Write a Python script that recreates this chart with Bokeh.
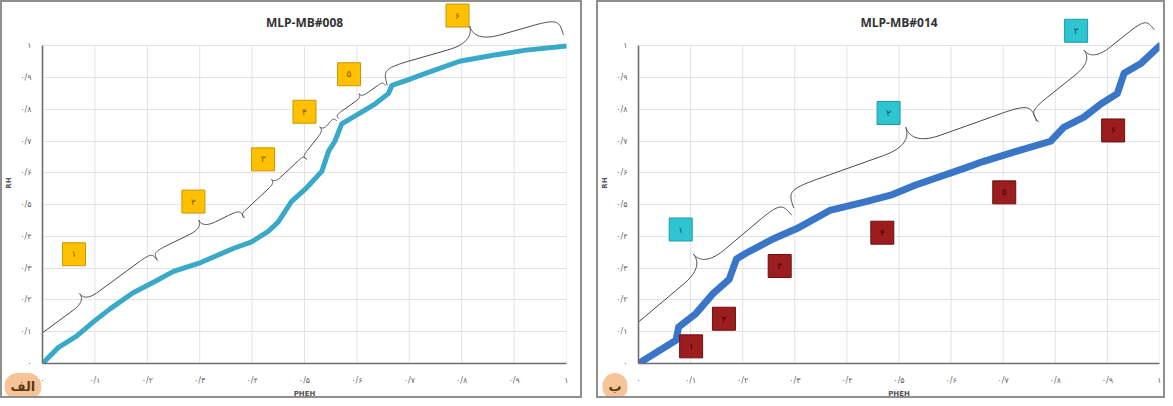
import numpy as np
from bokeh.plotting import figure
from bokeh.layouts import row
from bokeh.models import FixedTicker, Label, ColumnDataSource, Title
from bokeh.core.properties import value
from bokeh.embed import file_html
from bokeh.resources import INLINE

# ---------------- data ----------------
ticks = [0.0, 0.1, 0.2, 0.3, 0.4, 0.5, 0.6, 0.7, 0.8, 0.9, 1.0]
tick_labels = ["۰", "۰/۱", "۰/۲", "۰/۳", "۰/۴", "۰/۵", "۰/۶", "۰/۷", "۰/۸", "۰/۹", "۱"]

left_title = "MLP-MB#008"
right_title = "MLP-MB#014"
x_label = "PHEH"
y_label = "RH"

left_x = [0, 0.03, 0.065, 0.1, 0.129, 0.173, 0.219, 0.25, 0.302, 0.365, 0.398, 0.43, 0.45,
          0.475, 0.505, 0.533, 0.546, 0.558, 0.571, 0.604, 0.635, 0.66, 0.667, 0.7, 0.731,
          0.796, 0.86, 0.923, 1.0]
left_y = [0, 0.05, 0.086, 0.135, 0.172, 0.223, 0.262, 0.29, 0.318, 0.363, 0.382, 0.415, 0.446,
          0.51, 0.555, 0.605, 0.669, 0.70, 0.755, 0.787, 0.818, 0.85, 0.876, 0.895, 0.914,
          0.952, 0.971, 0.987, 1.0]

right_x = [0, 0.072, 0.077, 0.11, 0.143, 0.174, 0.188, 0.207, 0.259, 0.304, 0.367, 0.433,
           0.484, 0.532, 0.629, 0.661, 0.725, 0.791, 0.816, 0.855, 0.888, 0.919, 0.932,
           0.965, 1.0]
right_y = [0, 0.073, 0.115, 0.157, 0.22, 0.265, 0.329, 0.348, 0.393, 0.425, 0.482, 0.508,
           0.53, 0.562, 0.617, 0.636, 0.668, 0.70, 0.744, 0.776, 0.818, 0.85, 0.914,
           0.946, 1.0]

left_box_labels = ["۱", "۲", "۳", "۴", "۵", "۶"]
left_box_x = [0.06, 0.288, 0.421, 0.50, 0.585, 0.792]
left_box_y = [0.344, 0.51, 0.643, 0.793, 0.911, 1.096]

right_cyan_labels = ["۱", "۲", "۳"]
right_cyan_x = [0.081, 0.480, 0.840]
right_cyan_y = [0.422, 0.789, 1.048]

right_red_labels = ["۱", "۲", "۳", "۴", "۵", "۶"]
right_red_x = [0.101, 0.164, 0.271, 0.468, 0.702, 0.911]
right_red_y = [0.054, 0.141, 0.307, 0.412, 0.539, 0.734]

# braces: (start, tip, end)
left_braces = [
    ((-0.031, 0.022), (0.071, 0.220), (0.219, 0.325)),
    ((0.219, 0.325), (0.298, 0.452), (0.385, 0.459)),
    ((0.385, 0.459), (0.437, 0.580), (0.504, 0.643)),
    ((0.504, 0.643), (0.529, 0.745), (0.562, 0.764)),
    ((0.565, 0.771), (0.604, 0.850), (0.654, 0.876)),
    ((0.658, 0.876), (0.815, 1.064), (0.994, 1.035)),
]
right_braces = [
    ((-0.019, 0.035), (0.105, 0.345), (0.294, 0.467)),
    ((0.298, 0.490), (0.513, 0.744), (0.764, 0.763)),
    ((0.768, 0.760), (0.855, 0.987), (0.990, 1.051)),
]

FRAME_H = 357
Y_END = 1.137


def brace_path(A, T, B, sx, sy, n=30):
    a = np.array([A[0] * sx, A[1] * sy])
    t = np.array([T[0] * sx, T[1] * sy])
    b = np.array([B[0] * sx, B[1] * sy])
    u = (b - a) / np.linalg.norm(b - a)
    nr = np.array([-u[1], u[0]])
    if np.dot(t - a, nr) < 0:
        nr = -nr
    d = np.dot(t - a, nr)
    h = d / 2.0
    tp = t - h * nr

    def cubic(p0, p1, p2, p3):
        s = np.linspace(0, 1, n)[:, None]
        return (1 - s) ** 3 * p0 + 3 * (1 - s) ** 2 * s * p1 + 3 * (1 - s) * s ** 2 * p2 + s ** 3 * p3

    def half(e):
        ep = e + h * nr
        L = np.linalg.norm(tp - ep)
        dr = (tp - ep) / L
        k = min(1.6 * h, 0.45 * L)
        q1 = ep + k * dr
        q2 = tp - k * dr
        c1 = cubic(e, e + 0.8 * h * nr, ep, q1)
        c2 = cubic(q2, tp, t - 0.2 * h * nr, t)
        return np.vstack([c1, c2])

    pts = np.vstack([half(a), half(b)[::-1]])
    return pts[:, 0] / sx, pts[:, 1] / sy


def make_panel(title, xs, ys, line_color, line_width, frame_w, mb_left, mb_right,
               braces, boxes, badge, badge_offset):
    p = figure(frame_width=frame_w, frame_height=FRAME_H, x_range=(0, 1), y_range=(0, Y_END),
               output_backend="svg", toolbar_location=None,
               min_border_left=mb_left, min_border_right=mb_right,
               min_border_top=0, min_border_bottom=29)
    p.styles = {"border": "2px solid #8f8f8f"}
    p.outline_line_color = None
    p.background_fill_color = "white"
    p.border_fill_color = "white"

    p.xgrid.visible = False
    p.ygrid.ticker = FixedTicker(ticks=ticks)
    p.ygrid.grid_line_color = "#e3e3e3"
    p.segment(x0=ticks, y0=[0] * len(ticks), x1=ticks, y1=[1] * len(ticks),
              line_color="#e3e3e3", line_width=1)

    for ax in (p.xaxis[0], p.yaxis[0]):
        ax.ticker = FixedTicker(ticks=ticks)
        ax.major_label_overrides = {t: l for t, l in zip(ticks, tick_labels)}
        ax.bounds = (0, 1)
        ax.axis_line_color = "#6e6e6e"
        ax.axis_line_width = 1.6
        ax.major_tick_line_color = None
        ax.minor_tick_line_color = None
        ax.major_label_text_font_size = "8px"
        ax.major_label_text_color = "#666666"
        ax.major_label_text_font = "DejaVu Sans"
        ax.axis_label_text_font_size = "7px"
        ax.axis_label_text_font_style = "bold"
        ax.axis_label_text_color = "#555555"
        ax.axis_label_text_font = "DejaVu Sans"
    p.xaxis[0].axis_label = x_label
    p.yaxis[0].axis_label = y_label
    p.xaxis[0].major_label_standoff = 6
    p.xaxis[0].axis_label_standoff = 2
    p.yaxis[0].major_label_standoff = 5
    p.yaxis[0].axis_label_standoff = 4

    sx = frame_w / 1.0
    sy = FRAME_H / Y_END
    for A, T, B in braces:
        bx, by = brace_path(A, T, B, sx, sy)
        p.line(bx, by, line_color="#4a4a4a", line_width=1.0)

    p.line(xs, ys, line_color=line_color, line_width=line_width, line_join="round", line_cap="round")

    for (lbls, bxs, bys, fill, edge, tcol) in boxes:
        src = ColumnDataSource(dict(x=bxs, y=bys, t=lbls))
        p.scatter("x", "y", source=src, marker="square", size=23, fill_color=fill,
                  line_color=edge, line_width=1)
        p.text("x", "y", text="t", source=src, text_align="center", text_baseline="middle",
               text_font_size="9px", text_color=tcol, text_font=value("DejaVu Sans"))

    p.add_layout(Label(x=0.5, y=1.073, text=title, text_align="center", text_baseline="middle",
                       text_font_size="12px", text_font_style="bold", text_color="#333333",
                       text_font="Open Sans"))
    badge_title = Title(text=badge, align="left", vertical_align="top", offset=badge_offset,
                        standoff=-55, text_font_size="13px", text_color="#5a3a1a",
                        text_font="DejaVu Sans", background_fill_color="#f7c497", padding=6,
                        border_radius=13)
    p.add_layout(badge_title, "below")
    return p


p1 = make_panel(left_title, left_x, left_y, "#38a9c7", 5, 520, 33, 18, left_braces,
                [(left_box_labels, left_box_x, left_box_y, "#ffc000", "#c99700", "#7a5600")],
                "الف", -38)
p2 = make_panel(right_title, right_x, right_y, "#3a76c8", 7, 517, 37, 8, right_braces,
                [(right_cyan_labels, right_cyan_x, right_cyan_y, "#2ec5d3", "#1f9aa6", "#0f4f57"),
                 (right_red_labels, right_red_x, right_red_y, "#9c1d1d", "#6b1010", "#3a0505")],
                "ب", -36)

layout = row(p1, p2, spacing=14)
open("out.html", "w").write(file_html(layout, INLINE))
